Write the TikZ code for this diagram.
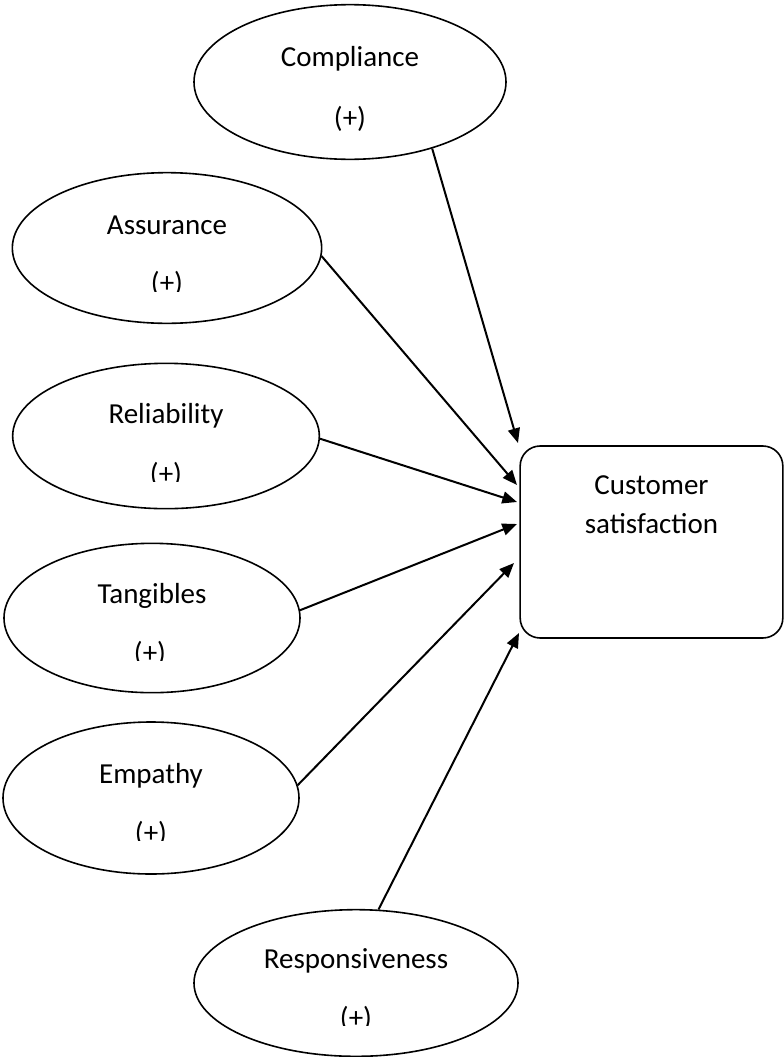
\documentclass[tikz,border=0pt]{standalone}
\usepackage{fontspec}
\setmainfont{Carlito}
\usepackage{tikz}
\usetikzlibrary{shapes.geometric}
\usetikzlibrary{arrows.meta}

\begin{document}
\begin{tikzpicture}[x=.75pt,y=-.75pt,
		factor/.style={shape=ellipse,draw=black,line width=1.2pt,inner sep=0pt},
		panel/.style={shape=rectangle,draw=black,line width=1.2pt,rounded corners=15pt,inner sep=0pt},
		word/.style={font=\fontsize{21.75pt}{26pt}\selectfont,inner sep=0pt,anchor=base},
		link/.style={-{Triangle[length=11pt,width=9pt]},line width=1.5pt}]
			\useasboundingbox (0,0) rectangle (784,1057);

			\node[factor, minimum width=234pt, minimum height=116pt] (comp) at (350,82) {};
			\node[factor, minimum width=232pt, minimum height=113pt] (assu) at (167,248) {};
			\node[factor, minimum width=230pt, minimum height=109pt] (reli) at (166,436) {};
			\node[factor, minimum width=222pt, minimum height=112pt] (tang) at (152,618) {};
			\node[factor, minimum width=222pt, minimum height=114pt] (empa) at (151,798) {};
			\node[factor, minimum width=243pt, minimum height=110pt] (resp) at (356,983) {};
			\node[panel, minimum width=197pt, minimum height=144pt] (cust) at (651.5,542) {};

			%% texts
			\node[word] (compt) at (350,66) {Compliance};
			\node[word] (comps) at (350,127) {(+)};
			\node[word] (assut) at (167,234) {Assurance};
			\node[word] (relit) at (166,423) {Reliability};
			\node[word] (tangt) at (152,603) {Tangibles};
			\node[word] (empat) at (151,783) {Empathy};
			\node[word] (respt) at (356,968) {Responsiveness};
			\node[word] (custa) at (651.5,494) {Customer};
			\node[word] (custb) at (651.5,533) {satisfaction};

			%% signs cut at the line
			\begin{scope}
				\clip (0,0) rectangle (784,291);
				\node[word] (assus) at (167,292) {(+)};
			\end{scope}
			\begin{scope}
				\clip (0,300) rectangle (784,481);
				\node[word] (relis) at (166,483) {(+)};
			\end{scope}
			\begin{scope}
				\clip (0,500) rectangle (784,660);
				\node[word] (tangs) at (150,662) {(+)};
			\end{scope}
			\begin{scope}
				\clip (0,700) rectangle (784,840);
				\node[word] (empas) at (151,842) {(+)};
			\end{scope}
			\begin{scope}
				\clip (0,900) rectangle (784,1025);
				\node[word] (resps) at (356,1027) {(+)};
			\end{scope}

			%% arrow tips
			\coordinate (tcomp) at (518,443);
			\coordinate (tassu) at (517,485);
			\coordinate (treli) at (517,502);
			\coordinate (ttang) at (517,524);
			\coordinate (tempa) at (514,563);
			\coordinate (tresp) at (519,633);

			%% lines
			\draw[link] (comp.-39) -- (tcomp);
			\draw[link] (assu.-3) -- (tassu);
			\draw[link] (reli.-1) -- (treli);
			\draw[link] (tang.3) -- (ttang);
			\draw[link] (empa.5) -- (tempa);
			\draw[link] (resp.73) -- (tresp);
\end{tikzpicture}
\end{document}
